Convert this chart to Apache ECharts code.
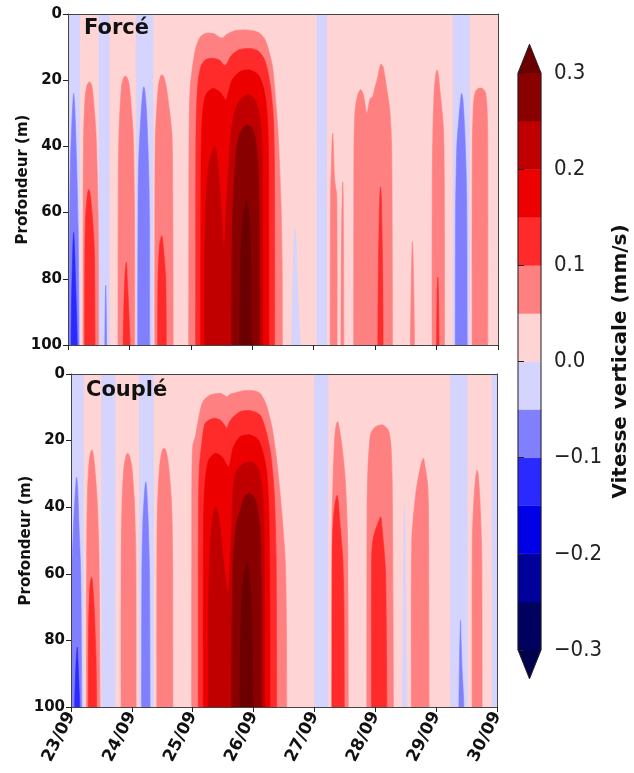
<!DOCTYPE html>
<html><head><meta charset="utf-8">
<script src="https://cdn.jsdelivr.net/npm/echarts@6/dist/echarts.min.js"></script>
<style>html,body{margin:0;padding:0;background:#fff}#chart{width:634px;height:773px}</style>
</head><body><div id="chart"></div>
<script>
// ---------- axes / ticks ----------
const dayTicks = [23, 24, 25, 26, 27, 28, 29, 30];
const dayLabels = ['23/09', '24/09', '25/09', '26/09', '27/09', '28/09', '29/09', '30/09'];
const depthTicks = [0, 20, 40, 60, 80, 100];
const colorbarTicks = [-0.3, -0.2, -0.1, 0.0, 0.1, 0.2, 0.3];

// ---------- contour levels (mm/s) and colours ----------
const levels = [-0.3, -0.25, -0.2, -0.15, -0.1, -0.05, 0, 0.05, 0.1, 0.15, 0.2, 0.25, 0.3];
const levelColors = ['#00005e', '#00009a', '#0000e6', '#2a2aff', '#8080ff', '#d4d4ff',
                     '#ffd4d4', '#ff8080', '#ff2a2a', '#ec0000', '#c00000', '#880000'];
const underColor = '#00004e';
const overColor = '#6c0000';

// ---------- field values (w in mm/s) ----------
const backgroundW = 0.025;   // faint upward motion everywhere
const bandW = -0.025;        // faint downward full-depth bands

// full-depth faint downward bands [start day, end day]
const forceBands = [[23.0, 23.19], [23.505, 23.67], [24.113, 24.384], [27.055, 27.207], [29.27, 29.536]];
const coupleBands = [[23.0, 23.203], [23.505, 23.724], [24.125, 24.355], [27.0, 27.218], [29.237, 29.51], [29.919, 30.0]];

// contour regions: w = bin value, pts = [day, depth] outline of the region where w is reached
const forceRegions = [
  {w: -0.075, pts: [[23.015,100],[23.02,75],[23.04,45],[23.07,30],[23.092,24],[23.11,28],[23.14,45],[23.165,65],[23.18,100]]},
  {w: -0.125, pts: [[23.05,100],[23.06,85],[23.08,70],[23.092,66],[23.105,70],[23.13,85],[23.15,100]]},
  {w: 0.075, pts: [[23.245,100],[23.248,60],[23.255,36],[23.28,25],[23.31,21.5],[23.35,20.5],[23.385,21.5],[23.41,25],[23.455,36],[23.49,60],[23.5,100]]},
  {w: 0.125, pts: [[23.272,100],[23.276,70],[23.29,60],[23.32,54],[23.342,53],[23.365,55],[23.4,62],[23.43,72],[23.44,100]]},
  {w: -0.075, pts: [[23.6,100],[23.608,86],[23.614,82],[23.62,86],[23.628,100]]},
  {w: 0.075, pts: [[23.815,100],[23.818,55],[23.83,36],[23.87,22],[23.91,19],[23.94,18.8],[23.97,19.5],[24.0,22],[24.06,36],[24.08,55],[24.087,100]]},
  {w: 0.125, pts: [[23.9,100],[23.91,88],[23.93,78],[23.951,75],[23.965,80],[23.99,90],[24.01,100]]},
  {w: -0.075, pts: [[24.135,100],[24.14,60],[24.15,45],[24.19,30],[24.22,23],[24.234,22],[24.25,23],[24.28,30],[24.31,45],[24.325,60],[24.33,100]]},
  {w: 0.075, pts: [[24.413,100],[24.415,55],[24.425,36],[24.47,22],[24.51,18.6],[24.533,18.4],[24.56,19],[24.6,22],[24.69,36],[24.705,55],[24.712,100]]},
  {w: 0.125, pts: [[24.46,100],[24.465,80],[24.49,70],[24.525,67],[24.55,70],[24.59,80],[24.6,100]]},
  // main upwelling event 25-26/09
  {w: 0.075, pts: [[24.965,100],[24.968,50],[24.975,30],[24.99,22],[25.02,17],[25.06,12],[25.1,9],[25.16,6.8],[25.25,5.8],[25.38,6],[25.46,7],[25.52,7.2],[25.58,6.2],[25.7,5.1],[25.85,4.8],[26.0,5],[26.12,5.8],[26.2,7.5],[26.26,10.5],[26.33,16],[26.38,26],[26.42,36],[26.465,56],[26.485,75],[26.49,100]]},
  {w: 0.125, pts: [[25.079,100],[25.082,40],[25.095,27],[25.12,20],[25.17,15.5],[25.25,13.7],[25.36,13.4],[25.47,14],[25.54,15.5],[25.58,15.2],[25.64,13],[25.7,11.8],[25.8,10.7],[25.96,10.4],[26.1,11.2],[26.2,13.8],[26.26,18],[26.31,24],[26.345,32],[26.36,45],[26.365,100]]},
  {w: 0.175, pts: [[25.16,100],[25.165,45],[25.18,33],[25.21,27],[25.255,24],[25.36,22.5],[25.47,23.5],[25.53,25],[25.57,26],[25.62,23],[25.67,20],[25.8,17.4],[25.96,16.9],[26.1,18.4],[26.17,21.5],[26.22,26],[26.25,33],[26.265,45],[26.27,100]]},
  {w: 0.225, pts: [[25.225,100],[25.228,70],[25.25,55],[25.3,45],[25.36,41],[25.39,40],[25.42,42],[25.46,50],[25.5,60],[25.53,70],[25.545,71],[25.575,60],[25.62,45],[25.66,35],[25.72,29],[25.8,26],[25.93,24.3],[26.03,25.5],[26.1,29],[26.14,34],[26.16,42],[26.168,60],[26.17,100]]},
  {w: 0.275, pts: [[25.665,100],[25.67,70],[25.69,56],[25.74,41],[25.8,36],[25.87,34],[25.935,33.6],[26.0,34.5],[26.05,37.5],[26.09,45],[26.11,58],[26.12,100]]},
  {w: 0.325, pts: [[25.795,100],[25.805,78],[25.84,63],[25.9,56],[25.94,59],[25.97,68],[25.99,100]]},
  {w: -0.025, pts: [[26.641,100],[26.66,80],[26.685,66],[26.7,65],[26.72,72],[26.74,85],[26.777,100]]},
  // 27-30/09
  {w: 0.075, pts: [[27.27,100],[27.275,55],[27.29,45],[27.3,38],[27.31,36],[27.32,40],[27.34,50],[27.375,55],[27.38,100]]},
  {w: 0.075, pts: [[27.445,100],[27.455,65],[27.468,52],[27.473,50.7],[27.48,55],[27.49,100]]},
  {w: 0.075, pts: [[27.652,100],[27.655,40],[27.665,32],[27.68,28],[27.717,24.5],[27.761,22.8],[27.79,23.5],[27.815,25],[27.85,29],[27.869,30],[27.9,27],[27.923,25.5],[27.96,25],[28.0,22],[28.043,19],[28.07,16.5],[28.097,15.1],[28.13,16],[28.16,19],[28.184,22],[28.238,29],[28.265,38],[28.275,55],[28.282,100]]},
  {w: 0.125, pts: [[28.045,100],[28.055,75],[28.075,56],[28.086,52.2],[28.1,55],[28.12,75],[28.13,100]]},
  {w: 0.075, pts: [[28.575,100],[28.59,80],[28.603,70],[28.607,68.8],[28.615,72],[28.63,85],[28.64,100]]},
  {w: 0.075, pts: [[28.928,100],[28.93,50],[28.94,36],[28.96,24],[28.985,18.5],[29.009,16.9],[29.03,18.5],[29.06,24],[29.11,34],[29.125,50],[29.129,100]]},
  {w: 0.125, pts: [[29.0,100],[29.01,84],[29.02,79.5],[29.03,84],[29.04,100]]},
  {w: -0.075, pts: [[29.305,100],[29.31,60],[29.33,40],[29.37,30],[29.4,24.5],[29.411,24],[29.43,26],[29.46,36],[29.49,55],[29.498,100]]},
  {w: 0.075, pts: [[29.579,100],[29.582,40],[29.6,28],[29.63,23.5],[29.68,22.5],[29.75,22.5],[29.8,24],[29.825,30],[29.834,45],[29.834,100]]}
];

const coupleRegions = [
  {w: -0.075, pts: [[23.0,100],[23.0,62],[23.02,55],[23.05,42],[23.08,33],[23.093,31],[23.11,34],[23.13,45],[23.16,60],[23.176,100]]},
  {w: -0.125, pts: [[23.06,100],[23.075,90],[23.095,83],[23.104,82],[23.115,86],[23.135,95],[23.145,100]]},
  {w: 0.075, pts: [[23.255,100],[23.258,55],[23.27,36],[23.3,26],[23.33,23],[23.34,22.8],[23.36,23.5],[23.39,28],[23.43,38],[23.46,55],[23.477,100]]},
  {w: 0.125, pts: [[23.285,100],[23.29,75],[23.31,64],[23.335,61],[23.35,62],[23.38,70],[23.41,85],[23.42,100]]},
  {w: 0.075, pts: [[23.823,100],[23.825,55],[23.84,38],[23.87,28],[23.91,24.2],[23.933,23.8],[23.96,24.5],[24.0,28],[24.04,38],[24.065,55],[24.07,100]]},
  {w: -0.075, pts: [[24.16,100],[24.165,60],[24.18,45],[24.21,35],[24.229,32.4],[24.245,35],[24.27,45],[24.29,60],[24.3,100]]},
  {w: 0.075, pts: [[24.41,100],[24.412,55],[24.425,38],[24.46,27],[24.5,22.8],[24.53,22.3],[24.56,23],[24.6,27],[24.65,38],[24.67,55],[24.673,100]]},
  // main upwelling event 25-26/09
  {w: 0.075, pts: [[24.983,100],[24.985,40],[24.99,26],[25.005,21],[25.041,19],[25.07,16],[25.095,13.5],[25.15,9],[25.2,7.5],[25.287,6.3],[25.45,5.8],[25.53,6.5],[25.562,6.8],[25.62,6],[25.67,5.8],[25.836,5],[26.0,5],[26.107,5.8],[26.18,8],[26.218,9.8],[26.3,15.8],[26.38,25.9],[26.46,40.9],[26.52,55.9],[26.54,75],[26.544,100]]},
  {w: 0.125, pts: [[25.092,100],[25.095,40],[25.11,28],[25.15,20.8],[25.205,14.8],[25.342,13.3],[25.452,13.8],[25.53,15.5],[25.562,16.3],[25.6,14.5],[25.671,12.8],[25.781,11.3],[25.946,11],[26.107,12.3],[26.2,16.8],[26.28,23.8],[26.34,35.9],[26.37,55],[26.38,100]]},
  {w: 0.175, pts: [[25.174,100],[25.178,45],[25.2,33],[25.26,25.9],[25.37,23.8],[25.479,24.8],[25.589,27.9],[25.64,24],[25.671,21.8],[25.781,18.8],[25.946,18.3],[26.08,19.8],[26.17,24.8],[26.22,30],[26.25,40],[26.265,60],[26.27,100]]},
  {w: 0.225, pts: [[25.256,100],[25.26,70],[25.28,55],[25.32,44],[25.37,39.9],[25.42,42],[25.47,50],[25.53,60],[25.575,66],[25.6,62],[25.64,45],[25.671,33],[25.72,29],[25.836,26.9],[25.98,26.4],[26.08,28.5],[26.13,33],[26.165,41],[26.18,55],[26.188,100]]},
  {w: 0.275, pts: [[25.64,100],[25.645,75],[25.665,56],[25.72,45],[25.781,40.9],[25.85,37],[25.918,35.9],[25.99,36.5],[26.05,39],[26.1,46],[26.125,61],[26.133,100]]},
  {w: 0.325, pts: [[25.777,100],[25.785,80],[25.82,64],[25.891,56.4],[25.93,60],[25.965,70],[25.99,100]]},
  // 27-30/09
  {w: 0.075, pts: [[27.284,100],[27.287,50],[27.3,35.9],[27.328,20.8],[27.355,15.5],[27.382,14.3],[27.4,15.5],[27.447,20.8],[27.5,30],[27.519,35.9],[27.545,50],[27.557,100]]},
  {w: 0.125, pts: [[27.29,100],[27.292,60],[27.3,48],[27.33,40],[27.371,36.4],[27.39,38],[27.42,45],[27.464,55],[27.485,70],[27.491,100]]},
  {w: 0.075, pts: [[27.862,100],[27.865,40],[27.88,28],[27.9,22],[27.927,17.8],[28.01,15.8],[28.119,15.3],[28.212,16.8],[28.255,20.8],[28.275,30],[28.282,40],[28.298,100]]},
  {w: 0.125, pts: [[27.938,100],[27.94,55],[27.96,50],[28.0,47],[28.06,44],[28.091,42.9],[28.11,46],[28.14,52],[28.17,60],[28.19,100]]},
  {w: -0.025, pts: [[28.446,100],[28.46,70],[28.475,42],[28.479,39.4],[28.49,45],[28.505,70],[28.517,100]]},
  {w: 0.075, pts: [[28.594,100],[28.6,50],[28.665,35.9],[28.72,29.9],[28.76,26.5],[28.791,25.3],[28.82,28],[28.86,33],[28.875,42],[28.883,100]]},
  {w: -0.075, pts: [[29.375,100],[29.385,85],[29.398,75],[29.401,74],[29.41,80],[29.43,90],[29.455,100]]},
  {w: 0.075, pts: [[29.592,100],[29.595,50],[29.62,38],[29.65,31],[29.673,28.9],[29.69,30],[29.72,38],[29.75,55],[29.755,100]]}
];

// ---------- helpers ----------
function colorFor(w) {
  if (w < levels[0]) return underColor;
  if (w >= levels[levels.length - 1]) return overColor;
  for (let i = 0; i < levels.length - 1; i++) {
    if (w >= levels[i] && w < levels[i + 1]) return levelColors[i];
  }
  return overColor;
}
const dMin = depthTicks[0], dMax = depthTicks[depthTicks.length - 1];
const tMin = dayTicks[0], tMax = dayTicks[dayTicks.length - 1];

function buildField(bands, regions) {
  const all = [{w: backgroundW, pts: [[tMin, dMin], [tMax, dMin], [tMax, dMax], [tMin, dMax]], rect: true}];
  bands.forEach(b => all.push({w: bandW, pts: [[b[0], dMin], [b[1], dMin], [b[1], dMax], [b[0], dMax]], rect: true}));
  regions.slice().sort((a, b) => Math.abs(a.w) - Math.abs(b.w)).forEach(r => all.push(r));
  return all;
}
const forceField = buildField(forceBands, forceRegions);
const coupleField = buildField(coupleBands, coupleRegions);

// regions reach the bottom of the section: continue their sides below the
// clipped plot area so the smoothing of the outline stays out of view
const belowDepth = dMax * 1.6;
function fieldSeries(field, xi, yi) {
  return {
    type: 'custom', xAxisIndex: xi, yAxisIndex: yi, clip: true, silent: true, z: 1,
    data: field.map(r => r.pts[0]),
    renderItem: function (params, api) {
      const r = field[params.dataIndex];
      const c = colorFor(r.w);
      let pts = r.pts;
      if (!r.rect) {
        const first = pts[0], last = pts[pts.length - 1];
        pts = [[first[0], belowDepth]].concat(pts, [[last[0], belowDepth]]);
      }
      return {type: 'polygon', shape: {points: pts.map(p => api.coord(p)), smooth: r.rect ? 0 : 0.25},
              style: {fill: c, stroke: c, lineWidth: 0.6}};
    }
  };
}

const FONT_B = 'DejaVu Sans';
const axisColor = '#444';
function dayFmt(v) { const i = dayTicks.indexOf(Math.round(v)); return i >= 0 ? dayLabels[i] : ''; }
function cbFmt(v) { const r = Math.round(v * 10) / 10; return (r < 0 ? '\u2212' : '') + Math.abs(r).toFixed(1); }

function panelAxes(idx, showLabels) {
  const x = [{
    gridIndex: idx, type: 'value', min: tMin, max: tMax, interval: 1, z: 10,
    axisLine: {show: true, onZero: false, lineStyle: {color: axisColor, width: 1}},
    axisTick: {show: true, length: 5, lineStyle: {color: '#222'}},
    axisLabel: {show: showLabels, rotate: 63, margin: 6, formatter: dayFmt,
                fontFamily: FONT_B, fontWeight: 'bold', fontSize: 17, color: '#111'},
    splitLine: {show: false}
  }, {
    gridIndex: idx, type: 'value', position: 'top', min: tMin, max: tMax, interval: 1, z: 10,
    axisLine: {show: true, onZero: false, lineStyle: {color: axisColor, width: 1}},
    axisTick: {show: false}, axisLabel: {show: false}, splitLine: {show: false}
  }];
  const y = [{
    gridIndex: idx, type: 'value', inverse: true, min: dMin, max: dMax, interval: 20, z: 10,
    name: 'Profondeur (m)', nameLocation: 'middle', nameGap: 37, nameMoveOverlap: false,
    nameTextStyle: {fontFamily: FONT_B, fontWeight: 'bold', fontSize: 15, color: '#111'},
    axisLine: {show: true, onZero: false, lineStyle: {color: axisColor, width: 1}},
    axisTick: {show: true, length: 5, lineStyle: {color: '#222'}},
    axisLabel: {margin: 6, fontFamily: FONT_B, fontWeight: 'bold', fontSize: 15, color: '#111'},
    splitLine: {show: false}
  }, {
    gridIndex: idx, type: 'value', position: 'right', inverse: true, min: dMin, max: dMax, interval: 20, z: 10,
    axisLine: {show: true, onZero: false, lineStyle: {color: axisColor, width: 1}},
    axisTick: {show: false}, axisLabel: {show: false}, splitLine: {show: false}
  }];
  return {x, y};
}

const a0 = panelAxes(0, false);
const a1 = panelAxes(1, true);
const cbLo = colorbarTicks[0], cbHi = colorbarTicks[colorbarTicks.length - 1];
const extendFrac = 0.05 * (cbHi - cbLo);

const option = {
  animation: false,
  backgroundColor: '#ffffff',
  title: [
    {text: 'Forcé', left: 84, top: 18, padding: 0,
     textStyle: {fontFamily: FONT_B, fontWeight: 'bold', fontSize: 21, color: '#111'}},
    {text: 'Couplé', left: 86, top: 380, padding: 0,
     textStyle: {fontFamily: FONT_B, fontWeight: 'bold', fontSize: 21, color: '#111'}}
  ],
  grid: [
    {left: 68, top: 14, width: 430, height: 331, containLabel: false, outerBoundsMode: 'none'},
    {left: 71, top: 374, width: 426, height: 333, containLabel: false, outerBoundsMode: 'none'},
    {left: 518, top: 73, width: 23, height: 577, containLabel: false, outerBoundsMode: 'none'}
  ],
  xAxis: [
    a0.x[0], a0.x[1], a1.x[0], a1.x[1],
    {gridIndex: 2, type: 'value', min: 0, max: 1, show: false}
  ],
  yAxis: [
    a0.y[0], a0.y[1], a1.y[0], a1.y[1],
    {gridIndex: 2, type: 'value', position: 'right', min: cbLo, max: cbHi, interval: 0.1, z: 10,
     name: 'Vitesse verticale (mm/s)', nameLocation: 'middle', nameGap: 70, nameRotate: 90,
     nameTextStyle: {fontFamily: FONT_B, fontWeight: 'bold', fontSize: 20, color: '#111'},
     axisLine: {show: false},
     axisTick: {show: true, length: 6, lineStyle: {color: '#222'}},
     axisLabel: {margin: 13, formatter: cbFmt, fontFamily: "'Liberation Sans Narrow','DejaVu Sans Condensed',sans-serif",
                 fontSize: 22, color: '#222'},
     splitLine: {show: false}}
  ],
  series: [
    fieldSeries(forceField, 0, 0),
    fieldSeries(coupleField, 2, 2),
    {
      type: 'custom', xAxisIndex: 4, yAxisIndex: 4, clip: false, silent: true, z: 2,
      data: levelColors.map((c, i) => [0.5, (levels[i] + levels[i + 1]) / 2]),
      renderItem: function (params, api) {
        const i = params.dataIndex;
        const p0 = api.coord([0, levels[i + 1]]);
        const p1 = api.coord([1, levels[i]]);
        return {type: 'rect', shape: {x: p0[0], y: p0[1], width: p1[0] - p0[0], height: p1[1] - p0[1]},
                style: {fill: levelColors[i], stroke: levelColors[i], lineWidth: 0.5}};
      }
    },
    {
      type: 'custom', xAxisIndex: 4, yAxisIndex: 4, clip: false, silent: true, z: 3,
      data: [[0.5, cbHi], [0.5, cbLo], [0.5, 0]],
      renderItem: function (params, api) {
        const i = params.dataIndex;
        if (i === 0) {
          return {type: 'polygon', shape: {points: [api.coord([0, cbHi]), api.coord([0.5, cbHi + extendFrac]), api.coord([1, cbHi])]},
                  style: {fill: overColor}};
        }
        if (i === 1) {
          return {type: 'polygon', shape: {points: [api.coord([0, cbLo]), api.coord([0.5, cbLo - extendFrac]), api.coord([1, cbLo])]},
                  style: {fill: underColor}};
        }
        return {type: 'polygon', shape: {points: [
                  api.coord([0, cbHi]), api.coord([0.5, cbHi + extendFrac]), api.coord([1, cbHi]),
                  api.coord([1, cbLo]), api.coord([0.5, cbLo - extendFrac]), api.coord([0, cbLo])]},
                style: {fill: 'none', stroke: '#222', lineWidth: 1}};
      }
    }
  ]
};

const chart = echarts.init(document.getElementById('chart'), null, {renderer: 'canvas'});
chart.setOption(option);
</script>
</body></html>
